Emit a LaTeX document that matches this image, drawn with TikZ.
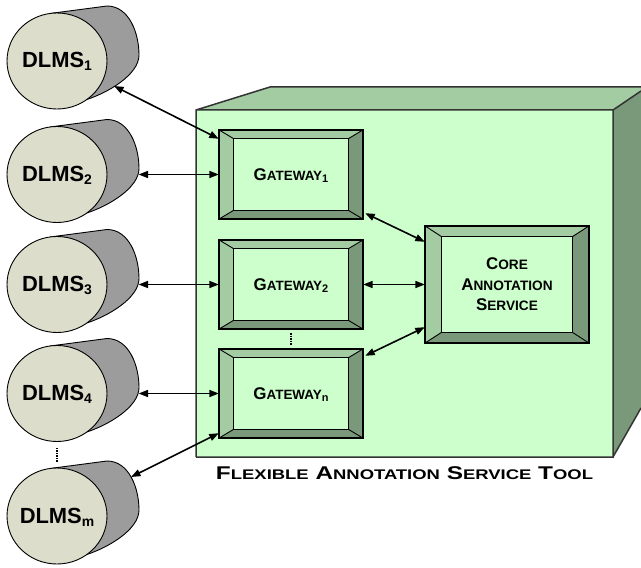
\documentclass[tikz,border=0pt]{standalone}
\usepackage{fontspec}
\setmainfont{Liberation Sans}
\usepackage{graphicx}
\usetikzlibrary{arrows.meta,calc,shapes.geometric}

\definecolor{facegreen}{HTML}{CCFFCC}
\definecolor{lightbevel}{HTML}{A3CCA3}
\definecolor{darkbevel}{HTML}{7A997A}
\definecolor{canface}{HTML}{DDDDCC}
\definecolor{cangray}{HTML}{9C9C9C}
\definecolor{cubeedge}{HTML}{333333}

% first letter large, rest as small capitals
\newcommand\capsword[4]{{\fontsize{#1}{#1}\selectfont #3}{\fontsize{#2}{#2}\selectfont #4}}
\newcommand\gwlabel[1]{\capsword{17}{13.5}{G}{ATEWAY}\raisebox{-2bp}{\fontsize{11}{11}\selectfont #1}}
\newcommand\dlmslabel[1]{DLMS\raisebox{-3bp}{\fontsize{14}{14}\selectfont #1}}

\tikzset{
  conn/.style={{Triangle[length=9.5bp,width=7bp]}-{Triangle[length=9.5bp,width=7bp]}, line width=1.6bp, black},
  gwbox/.style={rectangle, minimum width=144bp, minimum height=89bp, inner sep=0pt},
  corebox/.style={rectangle, minimum width=164bp, minimum height=117bp, inner sep=0pt},
  canfront/.style={ellipse, draw=black, line width=0.9bp, fill=canface, minimum width=100bp, minimum height=96bp, inner sep=0pt},
  canlabel/.style={font=\bfseries\fontsize{22}{22}\selectfont, anchor=base, inner sep=0pt},
  boxtext/.style={font=\bfseries, anchor=base, inner sep=0pt},
  vdots/.style={line width=1.5bp, dash pattern=on 1.5bp off 1bp}
}

% bevelled frame round a rectangular node: #1 node, #2 side width, #3 top/bottom height
\newcommand\bevelframe[3]{%
  \fill[lightbevel] (#1.north west) -- (#1.north east) -- ($(#1.north east)+(-#2,#3)$)
    -- ($(#1.north west)+(#2,#3)$) -- ($(#1.south west)+(#2,-#3)$) -- (#1.south west) -- cycle;
  \fill[darkbevel] (#1.north east) -- (#1.south east) -- (#1.south west)
    -- ($(#1.south west)+(#2,-#3)$) -- ($(#1.south east)+(-#2,-#3)$) -- ($(#1.north east)+(-#2,#3)$) -- cycle;
  \draw[black, line width=0.9bp]
    (#1.north west) -- ($(#1.north west)+(#2,#3)$)
    (#1.north east) -- ($(#1.north east)+(-#2,#3)$)
    (#1.south west) -- ($(#1.south west)+(#2,-#3)$)
    (#1.south east) -- ($(#1.south east)+(-#2,-#3)$);
  \draw[black, line width=1.2bp] ($(#1.north west)+(#2,#3)$) rectangle ($(#1.south east)+(-#2,-#3)$);
  \draw[black, line width=1.5bp] (#1.north west) rectangle (#1.south east);
}

% a storage cylinder lying on its side: #1 name, #2 centre height, #3 subscript
\newcommand\dlmscan[3]{%
  \begin{scope}[shift={(57,#2)}]
    \fill[cangray] (-7,-47.5) -- (50,-55) .. controls (72,-55) and (82,-28) .. (82,-6)
      .. controls (82,14) and (50,32) .. (30,38.4) -- (0,0) -- cycle;
    \draw[black, line width=0.9bp] (-7,-47.5) -- (50,-55) .. controls (72,-55) and (82,-28) .. (82,-6)
      .. controls (82,14) and (50,32) .. (30,38.4);
    \node[canfront] (#1) at (0,0) {};
    \node[canlabel] (#1-text) at (0,7) {\dlmslabel{#3}};
    \coordinate (#1-e) at (81.5,0);
    \coordinate (#1-se) at (57,25);
    \coordinate (#1-ne) at (74,-39);
  \end{scope}
}

\begin{document}
\begin{tikzpicture}[x=1bp, y=-1bp]
\useasboundingbox (0,0) rectangle (641,568);

% the tool drawn as a box: front, top and right faces
\fill[facegreen] (196,110) rectangle (613,457);
\fill[lightbevel] (196,110) -- (270,87) -- (641,87) -- (641,91) -- (613,110) -- cycle;
\fill[darkbevel] (613,110) -- (641,91) -- (641,408) -- (613,457) -- cycle;
\draw[cubeedge, line width=1.5bp, line join=miter]
  (196,457) -- (196,110) -- (270,87) -- (642,87)
  (196,110) -- (613,110) -- (641,91)
  (613,110) -- (613,457) -- (196,457)
  (613,457) -- (641,408);
\node[boxtext, font=\bfseries\fontsize{18.5}{20}\selectfont] (tooltitle) at (404.5,479.5)
  {\resizebox{377bp}{\height}{\capsword{18.5}{14}{F}{LEXIBLE} \capsword{18.5}{14}{A}{NNOTATION} \capsword{18.5}{14}{S}{ERVICE} \capsword{18.5}{14}{T}{OOL}}};

% gateways and the core service
\node[gwbox] (g1) at (291,174.5) {};
\node[gwbox] (g2) at (291,284.5) {};
\node[gwbox] (gn) at (291,393.5) {};
\node[corebox] (core) at (507,284.5) {};
\bevelframe{g1}{15}{9}
\bevelframe{g2}{15}{9}
\bevelframe{gn}{15}{9}
\bevelframe{core}{17}{11}
\node[boxtext] (g1-text) at (291,180.5) {\gwlabel{1}};
\node[boxtext] (g2-text) at (291,290.5) {\gwlabel{2}};
\node[boxtext] (gn-text) at (291,399.5) {\gwlabel{n}};
\node[boxtext] (core-l1) at (507,269.5) {\capsword{17}{13.7}{C}{ORE}};
\node[boxtext] (core-l2) at (507,290.2) {\capsword{17}{13.7}{A}{NNOTATION}};
\node[boxtext] (core-l3) at (507,310.5) {\capsword{17}{13.7}{S}{ERVICE}};
\draw[vdots, shorten <=4bp, shorten >=4bp] (g2.south) -- (gn.north);

% the digital library systems
\dlmscan{d1}{61}{1}
\dlmscan{d2}{174.5}{2}
\dlmscan{d3}{284.5}{3}
\dlmscan{d4}{393.5}{4}
\dlmscan{dm}{516}{m}
\draw[vdots, shorten <=6bp, shorten >=6bp] (d4.south) -- (dm.north);

% connections
\draw[conn] (d1-se) -- ($(g1.north west)+(0,9)$);
\draw[conn] (d2-e) -- (d2-e -| g1.west);
\draw[conn] (d3-e) -- (d3-e -| g2.west);
\draw[conn] (d4-e) -- (d4-e -| gn.west);
\draw[conn] (dm-ne) -- ($(gn.south west)+(0,-5)$);
\draw[conn] ($(g1.south east)+(2,-6)$) -- ($(core.north west)+(0,16)$);
\draw[conn] (g2.east) -- (core.west);
\draw[conn] ($(gn.north east)+(2,7)$) -- ($(core.south west)+(0,-16)$);
\end{tikzpicture}
\end{document}
